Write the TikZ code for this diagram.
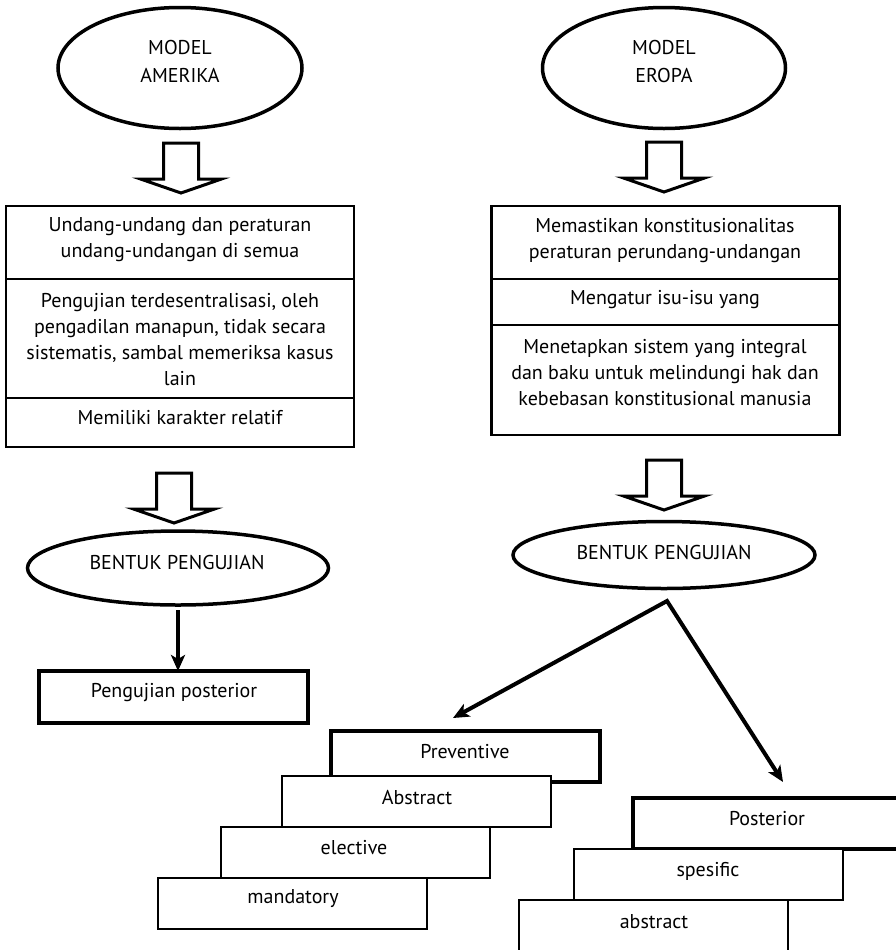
\documentclass[tikz,border=0pt]{standalone}
\usepackage{fontspec}
\setmainfont{PT Sans}
\usetikzlibrary{shapes.geometric,arrows.meta,calc}
\newlength\px
\setlength\px{0.75pt}
\begin{document}
\begin{tikzpicture}[x=0.75pt,y=-0.75pt,
  txt/.style={align=center, inner sep=0pt, font=\fontsize{15}{19.5}\selectfont},
  ovaltxt/.style={align=center, inner sep=0pt, font=\fontsize{15}{21}\selectfont},
  oval/.style={draw, ellipse, line width=3.5\px, inner sep=0pt, outer sep=0pt},
  panel/.style={draw, rectangle, line width=2.5\px, inner sep=0pt, outer sep=0pt,
    minimum width=348\px, anchor=north west},
  blk/.style={draw, line width=3\px, fill=white, line join=miter},
  conn/.style={line width=4\px, -{Stealth[length=12pt, width=10.5pt, inset=3pt]}},
  stackbox/.style={draw, fill=white, rectangle, line width=2\px, inner sep=0pt,
    outer sep=0pt, minimum width=269\px, minimum height=51\px},
  heavy/.style={line width=4\px},
  blockdown/.pic={
    \draw[blk] (-17.5,0) -- (17.5,0) -- (17.5,36) -- (40.5,36) -- (0,50)
      -- (-40.5,36) -- (-17.5,36) -- cycle;
  },
]
\useasboundingbox (0,0) rectangle (896,950);
\clip (0,0) rectangle (896,950);

% ---------- American model ----------
\node[oval, minimum width=244\px, minimum height=121\px] (modA) at (180,68) {};
\node[ovaltxt] (modAt) at (180,61) {MODEL\\AMERIKA};

\pic at (181,143) {blockdown};

\node[panel, minimum height=73\px]  (a1) at (6,206) {};
\node[panel, minimum height=119\px] (a2) at (a1.south west) {};
\node[panel, minimum height=49\px]  (a3) at (a2.south west) {};
\node[txt] (a1t) at (180,240) {Undang-undang dan peraturan\\undang-undangan di semua};
\node[txt] (a2t) at (180,339.5) {Pengujian terdesentralisasi, oleh\\pengadilan manapun, tidak secara\\sistematis, sambal memeriksa kasus\\lain};
\node[txt] (a3t) at (180,418) {Memiliki karakter relatif};

\pic at (174,473) {blockdown};

\node[oval, minimum width=301\px, minimum height=74\px] (formA) at (178,568) {};
\node[txt] (formAt) at (177,562) {BENTUK PENGUJIAN};

\node[stackbox, heavy, minimum height=52\px] (postA) at (173.5,697) {};
\node[txt] (postAt) at (174,693) {Pengujian posterior};

\draw[conn, shorten <=3.75pt] (formA.south) -- (formA.south |- postA.north);

% ---------- European model ----------
\node[oval, minimum width=243\px, minimum height=121\px] (modE) at (664,68) {};
\node[ovaltxt] (modEt) at (664,61) {MODEL\\EROPA};

\pic at (664,142) {blockdown};

\node[panel, minimum height=73\px]  (e1) at (491.5,206) {};
\node[panel, minimum height=46\px]  (e2) at (e1.south west) {};
\node[panel, minimum height=110\px] (e3) at (e2.south west) {};
\node[txt] (e1t) at (665,241) {Memastikan konstitusionalitas\\peraturan perundang-undangan};
\node[txt] (e2t) at (665,300) {Mengatur isu-isu yang};
\node[txt] (e3t) at (665,372.5) {Menetapkan sistem yang integral\\dan baku untuk melindungi hak dan\\kebebasan konstitusional manusia};

\pic at (664,460) {blockdown};

\node[oval, minimum width=302\px, minimum height=67\px] (formE) at (664,555) {};
\node[txt] (formEt) at (664,552) {BENTUK PENGUJIAN};

% fork towards the two testing forms
\coordinate (fork) at (667,601);
\coordinate (tipL) at (453,718);
\coordinate (tipR) at (783,782);
\draw[line width=4\px, line join=miter,
  {Stealth[length=12pt, width=10.5pt, inset=3pt]}-{Stealth[length=12pt, width=10.5pt, inset=3pt]}]
  (tipL) -- (fork) -- (tipR);

% preventive stack
\node[stackbox, heavy] (prev) at (465.5,756) {};
\node[stackbox] (abstr) at (416,801.5) {};
\node[stackbox] (elect) at (355,852.5) {};
\node[stackbox] (mand) at (292.5,903.5) {};
\node[txt] (prevt) at (465,752) {Preventive};
\node[txt] (abstrt) at (417,797) {Abstract};
\node[txt] (electt) at (354,848) {elective};
\node[txt] (mandt) at (293,899) {mandatory};

% posterior stack
\node[stackbox, heavy] (post) at (767,823.5) {};
\node[stackbox] (spes) at (708,874.5) {};
\node[stackbox] (abs2) at (653.5,925.5) {};
\node[txt] (postt) at (767,819) {Posterior};
\node[txt] (spest) at (708,871) {spesific};
\node[txt] (abs2t) at (654,922) {abstract};
\end{tikzpicture}
\end{document}
